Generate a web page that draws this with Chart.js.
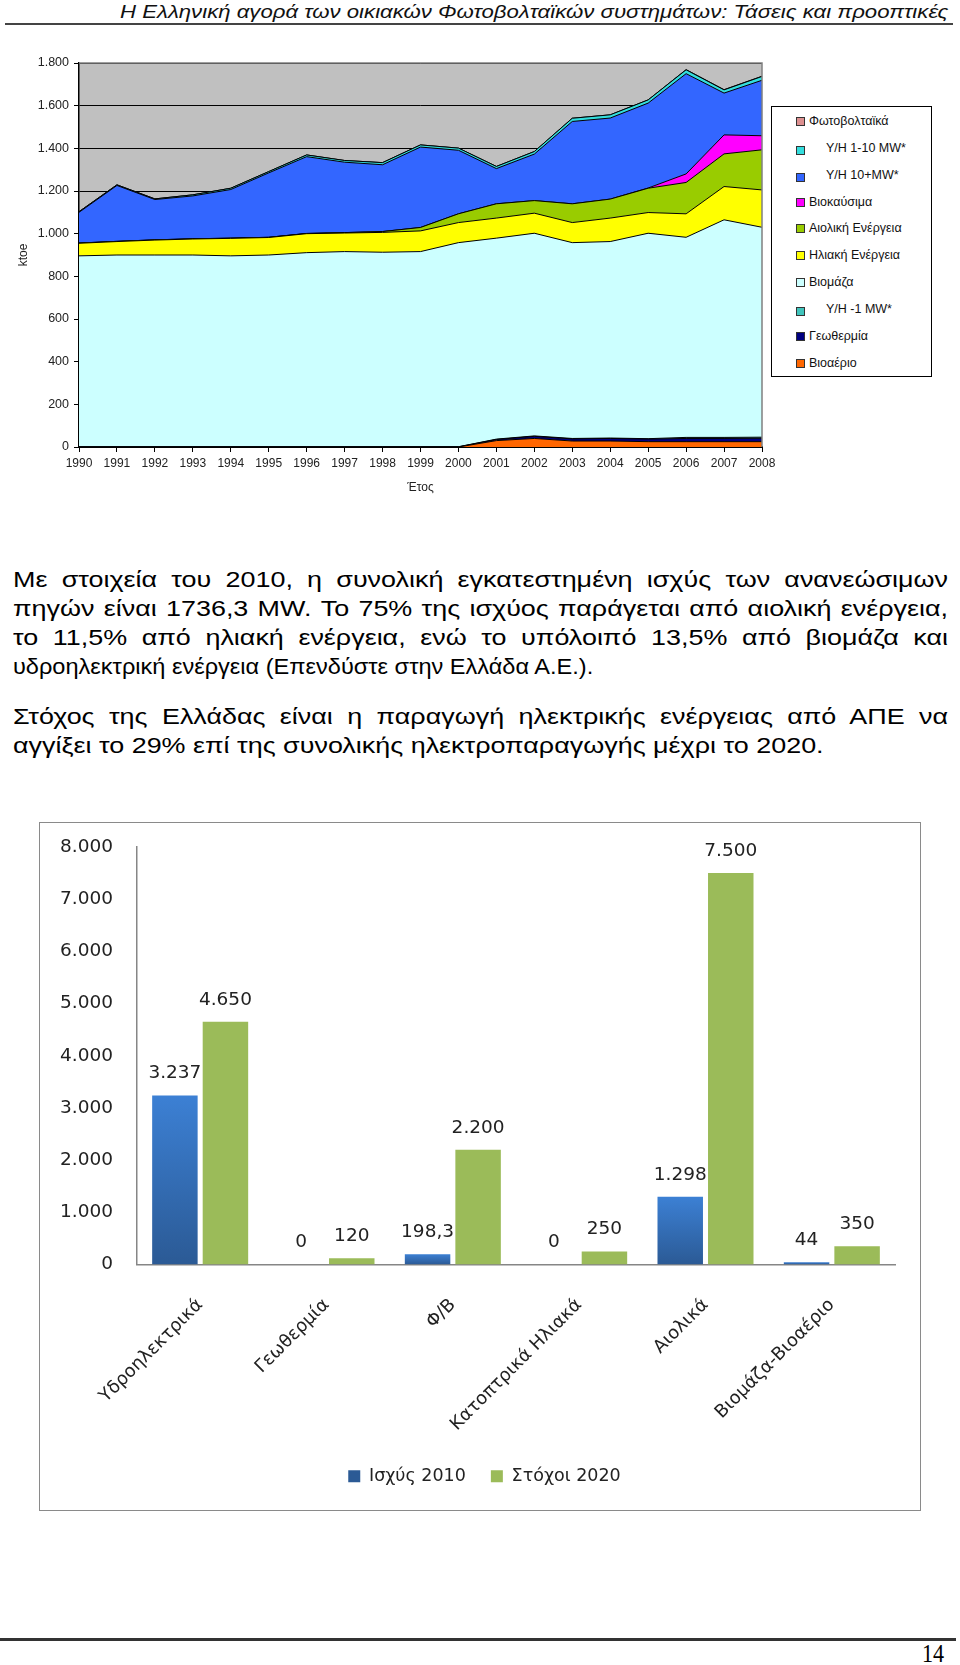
<!DOCTYPE html>
<html>
<head>
<meta charset="utf-8">
<script src="https://cdn.jsdelivr.net/npm/chart.js@4.4.1/dist/chart.umd.min.js"></script>
<style>
html,body{margin:0;padding:0;background:#fff;}
body{width:960px;height:1665px;position:relative;overflow:hidden;font-family:"Liberation Sans",Arial,sans-serif;color:#000;}
#hdr{position:absolute;top:1px;left:120px;white-space:nowrap;font-style:italic;font-size:18px;line-height:22px;transform-origin:0 0;display:inline-block;color:#111;}
#hline{position:absolute;left:5px;top:22.5px;width:948px;height:2px;background:#444;}
.ln{position:absolute;left:13px;white-space:nowrap;font-size:22px;line-height:24px;transform-origin:0 0;display:inline-block;color:#000;}
.ln.j{white-space:normal;text-align:justify;text-align-last:justify;display:block;}
#c1{position:absolute;left:0;top:40px;}
#leg1{position:absolute;left:771px;top:106px;width:161px;height:271px;box-sizing:border-box;border:1.5px solid #000;background:#fff;font-family:"Liberation Sans",Arial,sans-serif;font-size:12.5px;color:#111;}
#leg1 .it{position:absolute;left:0;height:14px;line-height:14px;white-space:nowrap;}
#leg1 .mk{position:absolute;width:7px;height:7px;border:1px solid #333;}
#box2{position:absolute;left:39px;top:822px;width:882px;height:689px;box-sizing:border-box;border:1.5px solid #8a8a8a;}
#c2{position:absolute;left:40px;top:823px;}
#fline{position:absolute;left:0;top:1638px;width:956px;height:2.5px;background:#333;}
#pnum{position:absolute;top:1641px;left:922px;font-family:"Liberation Serif","Times New Roman",serif;font-size:26px;line-height:26px;transform:scaleX(0.85);transform-origin:0 0;}
</style>
</head>
<body>
<div id="hdr">Η Ελληνική αγορά των οικιακών Φωτοβολταϊκών συστημάτων: Τάσεις και προοπτικές</div>
<div id="hline"></div>

<canvas id="c1" width="960" height="470"></canvas>
<div id="leg1"></div>

<div class="ln j" id="l1" style="top:568px">Με στοιχεία του 2010, η συνολική εγκατεστημένη ισχύς των ανανεώσιμων</div>
<div class="ln j" id="l2" style="top:597px">πηγών είναι 1736,3 MW. Το 75% της ισχύος παράγεται από αιολική ενέργεια,</div>
<div class="ln j" id="l3" style="top:626px">το 11,5% από ηλιακή ενέργεια, ενώ το υπόλοιπό 13,5% από βιομάζα και</div>
<div class="ln" id="l4" style="top:655px">υδροηλεκτρική ενέργεια (Επενδύστε στην Ελλάδα Α.Ε.).</div>
<div class="ln j" id="l5" style="top:705px">Στόχος της Ελλάδας είναι η παραγωγή ηλεκτρικής ενέργειας από ΑΠΕ να</div>
<div class="ln" id="l6" style="top:734px">αγγίξει το 29% επί της συνολικής ηλεκτροπαραγωγής μέχρι το 2020.</div>

<div id="box2"></div>
<canvas id="c2" width="880" height="687"></canvas>

<div id="fline"></div>
<div id="pnum">14</div>

<script>
// ---------- Chart 1 data (ktoe) ----------
const years = ['1990','1991','1992','1993','1994','1995','1996','1997','1998','1999','2000','2001','2002','2003','2004','2005','2006','2007','2008'];
const biogas      = [0,0,0,0,0,0,0,0,0,0,0,30,40,28,28,25,25,25,25];
const geothermal  = [1,1,1,1,1,1,1,1,1,1,1,5,10,10,12,12,15,15,16];
const hydroUnder1 = [0,0,0,0,0,0,0,0,0,0,0,2,2,2,2,2,5,5,5];
const biomass     = [895,899,899,899,895,899,910,915,912,915,957,942,950,918,921,963,938,1020,984];
const solar       = [59,63,70,75,82,82,89,87,93,97,94,94,94,94,110,97,110,156,175];
const wind        = [1,1,1,1,1,1,1,2,4,16,41,67,59,88,89,114,147,153,188];
const biofuels    = [0,0,0,0,0,0,0,0,0,0,0,0,0,0,0,1,40,89,66];
const hydro10plus = [144,262,189,201,228,302,360,330,313,377,298,165,218,386,380,398,470,196,260];
const hydro1to10  = [3,3,3,5,6,6,8,8,10,10,10,10,12,15,15,15,18,15,18];
const photovoltaic= [0,0,0,0,0,0,0,0,0,0,0,0,0,0,0,0,1,1,1];
const y1Max = 1800, y1Step = 200;

// stack order bottom -> top
const stackLabels = ['Βιοαέριο','Γεωθερμία','Υ/Η -1 MW*','Βιομάζα','Ηλιακή Ενέργεια','Αιολική Ενέργεια','Βιοκαύσιμα','Υ/Η 10+MW*','Υ/Η 1-10 MW*','Φωτοβολταϊκά'];
const stackData = [biogas, geothermal, hydroUnder1, biomass, solar, wind, biofuels, hydro10plus, hydro1to10, photovoltaic];
const stackColors = ['#FF6600','#000080','#40C4BC','#CCFFFF','#FFFF00','#99CC00','#FF00FF','#3366FF','#33DDDD','#DD9090'];
const legendIndent = [false,false,true,false,false,false,false,true,true,false];

// ---------- Chart 2 data (MW) ----------
const categories2 = ['Υδροηλεκτρικά','Γεωθερμία','Φ/Β','Κατοπτρικά Ηλιακά','Αιολικά','Βιομάζα-Βιοαέριο'];
const capacity2010 = [3237, 0, 198.3, 0, 1298, 44];
const targets2020  = [4650, 120, 2200, 250, 7500, 350];
const series2Labels = ['Ισχύς 2010','Στόχοι 2020'];
const y2Max = 8000, y2Step = 1000;

function grNum(v){
  const s = String(Math.abs(v)).split('.');
  const i = s[0].replace(/\B(?=(\d{3})+(?!\d))/g,'.');
  return (v<0?'-':'') + i + (s[1] ? ','+s[1] : '');
}

// ---------- text fitting ----------
(function(){
  const h = document.getElementById('hdr');
  h.style.transform = 'scaleX(' + (828 / h.offsetWidth) + ')';
  const s4 = 580 / document.getElementById('l4').offsetWidth;
  const s6 = 810 / document.getElementById('l6').offsetWidth;
  document.querySelectorAll('.ln').forEach(el => {
    if (el.id === 'l4') { el.style.transform = 'scaleX(' + s4 + ')'; return; }
    if (el.id === 'l6') { el.style.transform = 'scaleX(' + s6 + ')'; return; }
    el.style.transform = 'scaleX(' + s6 + ')';
    el.style.width = (935 / s6) + 'px';
  });
})();

// ---------- Chart 1 ----------
const plotBg = {
  id: 'plotBg',
  beforeDraw(chart, args, opts){
    const {ctx, chartArea:a} = chart;
    ctx.save(); ctx.fillStyle = opts.color; ctx.fillRect(a.left, a.top, a.right-a.left, a.bottom-a.top); ctx.restore();
  },
  afterDatasetsDraw(chart, args, opts){
    const {ctx, chartArea:a} = chart;
    ctx.save(); ctx.strokeStyle = opts.edge; ctx.lineWidth = 1.5;
    ctx.beginPath(); ctx.moveTo(a.left, a.top); ctx.lineTo(a.right, a.top); ctx.lineTo(a.right, a.bottom); ctx.stroke();
    ctx.restore();
  }
};

new Chart(document.getElementById('c1'), {
  type: 'line',
  data: {
    labels: years,
    datasets: stackData.map((d,i) => ({
      label: stackLabels[i], data: d,
      backgroundColor: stackColors[i], borderColor: '#000', borderWidth: 1,
      fill: i === 0 ? 'origin' : '-1', pointRadius: 0, tension: 0
    }))
  },
  options: {
    responsive: false, animation: false,
    layout: { padding: { top: 23, right: 198, left: 0, bottom: 0 } },
    plugins: { legend: { display: false }, tooltip: { enabled: false },
      plotBg: { color: '#C0C0C0', edge: '#808080' } },
    scales: {
      x: {
        offset: false,
        grid: { display: true, drawOnChartArea: false, drawTicks: true, tickLength: 5, color: '#000' },
        border: { color: '#000', width: 2 },
        ticks: { autoSkip: false, maxRotation: 0, padding: 4, color: '#222', font: { family: 'Liberation Sans', size: 12 } },
        title: { display: true, text: 'Έτος', color: '#222', font: { family: 'Liberation Sans', size: 12 }, padding: { top: 0, bottom: 15 } },
        afterFit(s){ s.height = 63; }
      },
      y: {
        stacked: true, min: 0, max: y1Max,
        grid: { color: '#000', lineWidth: 1, tickLength: 5, drawTicks: true },
        border: { color: '#000', width: 1.5 },
        ticks: { stepSize: y1Step, padding: 5, color: '#222', callback: v => grNum(v), font: { family: 'Liberation Sans', size: 12.5 } },
        title: { display: true, text: 'ktoe', color: '#222', font: { family: 'Liberation Sans', size: 12 }, padding: { top: 16, bottom: 0 } },
        afterFit(s){ s.width = 79; }
      }
    }
  },
  plugins: [plotBg]
});

// HTML legend for chart 1 (top of stack first)
(function(){
  const leg = document.getElementById('leg1');
  for (let k = 0; k < stackLabels.length; k++){
    const i = stackLabels.length - 1 - k;
    const cy = 120 + k * 26.85 - 106;
    const it = document.createElement('div');
    it.className = 'it';
    it.style.top = (cy - 7) + 'px';
    const mk = document.createElement('div');
    mk.className = 'mk';
    mk.style.left = '24px';
    mk.style.top = (legendIndent[i] ? 5 : 3) + 'px';
    mk.style.background = stackColors[i];
    const tx = document.createElement('span');
    tx.style.position = 'absolute';
    tx.style.left = (legendIndent[i] ? 54 : 37) + 'px';
    tx.textContent = stackLabels[i];
    it.appendChild(mk); it.appendChild(tx);
    leg.appendChild(it);
  }
})();

// ---------- Chart 2 ----------
const barLabels = {
  id: 'barLabels',
  afterDatasetsDraw(chart, args, opts){
    const {ctx} = chart;
    ctx.save();
    ctx.font = opts.font; ctx.fillStyle = opts.color; ctx.textAlign = 'center'; ctx.textBaseline = 'middle';
    chart.data.datasets.forEach((ds, di) => {
      chart.getDatasetMeta(di).data.forEach((el, j) => {
        ctx.fillText(grNum(ds.data[j]), el.x, el.y - opts.gap);
      });
    });
    ctx.restore();
  }
};

// shift the bottom legend so it is centred on the whole framed box
const legendShift = {
  id: 'legendShift',
  afterLayout(chart, args, opts){
    if (chart.legend) { chart.legend.left += opts.dx; chart.legend.right += opts.dx; }
  }
};

function blueGrad(c){
  const chart = c.chart;
  if (c.type !== 'data' || !chart.chartArea) return '#3A72BE';
  const y = chart.scales.y;
  const top = y.getPixelForValue(c.raw), bot = y.getPixelForValue(0);
  if (bot - top < 2) return '#3A72BE';
  const g = chart.ctx.createLinearGradient(0, top, 0, bot);
  g.addColorStop(0, '#3C80D4'); g.addColorStop(1, '#2B5A95');
  return g;
}

new Chart(document.getElementById('c2'), {
  type: 'bar',
  data: {
    labels: categories2,
    datasets: [
      { label: series2Labels[0], data: capacity2010, backgroundColor: blueGrad, borderWidth: 0 },
      { label: series2Labels[1], data: targets2020, backgroundColor: '#9BBB59', borderWidth: 0 }
    ]
  },
  options: {
    responsive: false, animation: false,
    layout: { padding: { top: 24, right: 25, left: 0, bottom: 15 } },
    plugins: {
      tooltip: { enabled: false },
      legend: { position: 'bottom', labels: { boxWidth: 12, boxHeight: 12, padding: 25, color: '#222', font: { family: 'DejaVu Sans', size: 17.5 } } },
      barLabels: { font: '18.5px "DejaVu Sans"', color: '#222', gap: 22 },
      legendShift: { dx: 17 }
    },
    scales: {
      x: {
        grid: { display: false, drawTicks: false },
        border: { color: '#868686', width: 1.5 },
        ticks: { minRotation: 45, maxRotation: 45, autoSkip: false, padding: 30, color: '#222', font: { family: 'DejaVu Sans', size: 18 } },
        afterFit(s){ s.height = 178; }
      },
      y: {
        min: 0, max: y2Max,
        grid: { display: false, drawTicks: true, tickLength: 21 },
        border: { color: '#868686', width: 1.5 },
        ticks: { stepSize: y2Step, padding: 3, color: '#222', callback: v => grNum(v), font: { family: 'DejaVu Sans', size: 18.5 } },
        afterFit(s){ s.width = 97; }
      }
    }
  },
  plugins: [barLabels, legendShift]
});
</script>
</body>
</html>
